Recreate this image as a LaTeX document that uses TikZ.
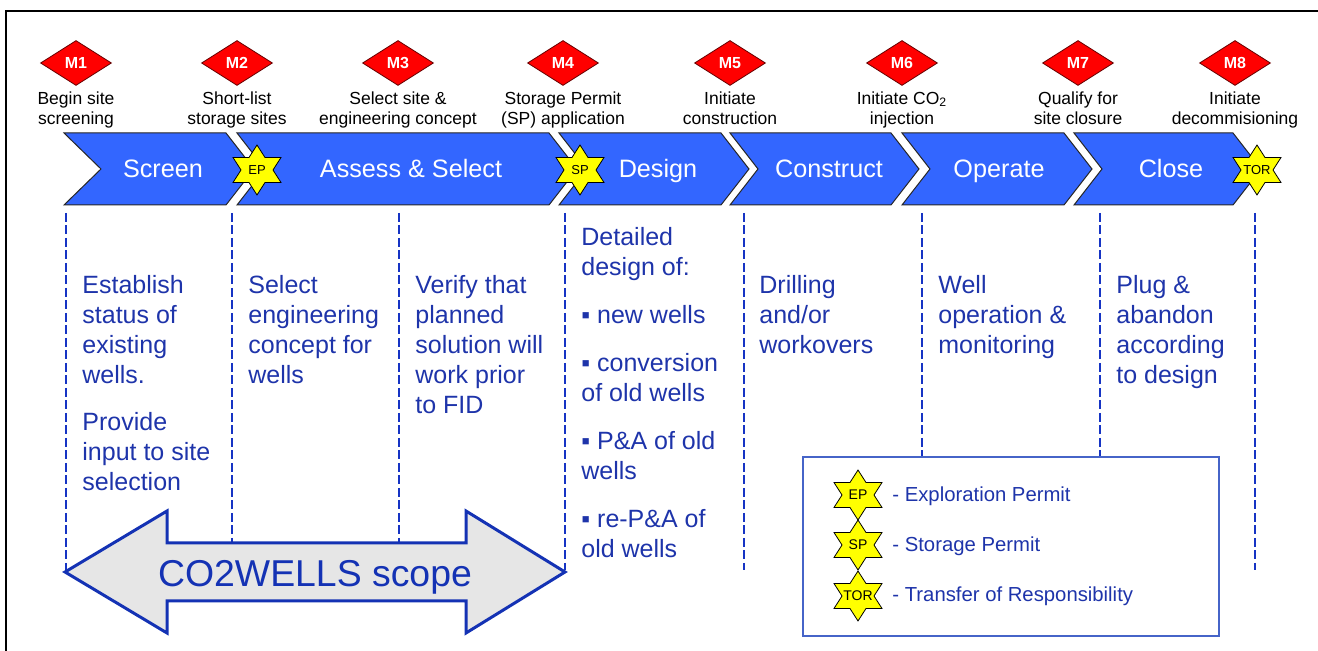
\documentclass[tikz,border=0pt]{standalone}
\usepackage{fontspec}
\setmainfont{Liberation Sans}
\usetikzlibrary{shapes.geometric}
\definecolor{chev}{RGB}{51,102,255}
\definecolor{bodyblue}{RGB}{30,52,170}
\definecolor{dashblue}{RGB}{22,52,196}
\definecolor{arrblue}{RGB}{20,50,180}
\definecolor{legblue}{RGB}{70,100,200}
\definecolor{arrfill}{RGB}{230,230,230}
\definecolor{mred}{RGB}{255,0,0}
\definecolor{staryellow}{RGB}{255,255,0}
\begin{document}
\begin{tikzpicture}[x=0.5pt,y=-0.5pt,
 chevron/.style={fill=chev, draw=black!85, line width=0.5pt, line join=miter},
 chevtext/.style={text=white, font=\fontsize{12.6pt}{15pt}\selectfont, anchor=base, inner sep=0},
 mdiamond/.style={diamond, fill=mred, draw=black!60!red, line width=0.4pt, minimum width=35.5pt, minimum height=22.5pt, inner sep=0, text=white, font=\bfseries\fontsize{8pt}{9pt}\selectfont},
 mlabel/.style={anchor=north, align=center, inner sep=0, font=\fontsize{8.75pt}{10.25pt}\selectfont},
 body/.style={anchor=north west, align=left, inner sep=0, text=bodyblue, font=\fontsize{12.5pt}{15pt}\selectfont},
 vline/.style={draw=dashblue, line width=1.4pt, dash pattern=on 4.5pt off 1.75pt},
 startext/.style={inner sep=0, font=\fontsize{6.5pt}{7pt}\selectfont},
 legstartext/.style={inner sep=0, font=\fontsize{7pt}{8pt}\selectfont},
 legtext/.style={anchor=base west, inner sep=0, text=bodyblue, font=\fontsize{10.15pt}{12pt}\selectfont},
 hexstar/.pic={\draw[fill=staryellow, draw=black, line width=0.4pt, line join=miter]
   (0,-25) -- (8,-12.5) -- (24,-12.5) -- (16,0) -- (24,12.5) -- (8,12.5) -- (0,25)
   -- (-8,12.5) -- (-24,12.5) -- (-16,0) -- (-24,-12.5) -- (-8,-12.5) -- cycle;}
]
\useasboundingbox (0,0) rectangle (1318,651);
% frame
\draw[line width=1pt] (5.5,651) -- (5.5,11) -- (1318,11);

% chevrons
\path[chevron] (64,133) -- (226,133) -- (254,169) -- (226,205) -- (64,205) -- (101,169) -- cycle;
\path[chevron] (237,133) -- (549,133) -- (577,169) -- (549,205) -- (237,205) -- (265,169) -- cycle;
\path[chevron] (559,133) -- (721,133) -- (749,169) -- (721,205) -- (559,205) -- (587,169) -- cycle;
\path[chevron] (730,133) -- (891,133) -- (919,169) -- (891,205) -- (730,205) -- (758,169) -- cycle;
\path[chevron] (902,133) -- (1064,133) -- (1092,169) -- (1064,205) -- (902,205) -- (930,169) -- cycle;
\path[chevron] (1074,133) -- (1233,133) -- (1261,169) -- (1233,205) -- (1074,205) -- (1102,169) -- cycle;

\node[chevtext] (screen) at (163,178) {Screen};
\node[chevtext] (assess) at (411,178) {Assess \& Select};
\node[chevtext] (design) at (658,178) {Design};
\node[chevtext] (construct) at (829,178) {Construct};
\node[chevtext] (operate) at (999,178) {Operate};
\node[chevtext] (close) at (1171,178) {Close};

% permit stars on the chevrons
\pic at (257,170) {hexstar};
\node[startext] (ep) at (257,170) {EP};
\pic at (580,170) {hexstar};
\node[startext] (sp) at (580,170) {SP};
\pic at (1257,170) {hexstar};
\node[startext] (tor) at (1257,170) {TOR};

% milestones
\node[mdiamond] (m1) at (76,63) {M1};
\node[mdiamond] (m2) at (237,63) {M2};
\node[mdiamond] (m3) at (398,63) {M3};
\node[mdiamond] (m4) at (563,63) {M4};
\node[mdiamond] (m5) at (730,63) {M5};
\node[mdiamond] (m6) at (902,63) {M6};
\node[mdiamond] (m7) at (1078,63) {M7};
\node[mdiamond] (m8) at (1235,63) {M8};

\node[mlabel] (l1) at (76,91) {Begin site\\screening};
\node[mlabel] (l2) at (237,91) {Short-list\\storage sites};
\node[mlabel] (l3) at (398,91) {Select site \&\\engineering concept};
\node[mlabel] (l4) at (563,91) {Storage Permit\\(SP) application};
\node[mlabel] (l5) at (730,91) {Initiate\\construction};
\node[mlabel] (l6) at (902,91) {Initiate CO\textsubscript{2}\\injection};
\node[mlabel] (l7) at (1078,91) {Qualify for\\site closure};
\node[mlabel] (l8) at (1235,91) {Initiate\\decommisioning};

% dashed separators
\draw[vline] (66,213) -- (66,570);
\draw[vline] (232,213) -- (232,560);
\draw[vline] (399,213) -- (399,560);
\draw[vline] (565,213) -- (565,570);
\draw[vline] (744,213) -- (744,570);
\draw[vline] (922,213) -- (922,457);
\draw[vline] (1100,213) -- (1100,457);
\draw[vline] (1255,213) -- (1255,570);

% scope arrow
\draw[draw=arrblue, fill=arrfill, line width=1.5pt, line join=miter]
  (65,572) -- (167,511) -- (167,543) -- (466,543) -- (466,511) -- (565,572)
  -- (466,633) -- (466,601) -- (167,601) -- (167,633) -- cycle;
\node[inner sep=0, anchor=base, text=arrblue, font=\fontsize{18.7pt}{22pt}\selectfont] (scope) at (315,587) {CO2WELLS scope};

% column texts
\node[body] (c1) at (82,275) {Establish\\status of\\existing\\wells.\\[8.5pt]Provide\\input to site\\selection};
\node[body] (c2) at (248,275) {Select\\engineering\\concept for\\wells};
\node[body] (c3) at (415,275) {Verify that\\planned\\solution will\\work prior\\to FID};
\node[body] (c4) at (581,227) {Detailed\\design of:\\[9pt]▪ new wells\\[9pt]▪ conversion\\of old wells\\[9pt]▪ P\&A of old\\wells\\[9pt]▪ re-P\&A of\\old wells};
\node[body] (c5) at (759,275) {Drilling\\and/or\\workovers};
\node[body] (c6) at (938,275) {Well\\operation \&\\monitoring};
\node[body] (c7) at (1116,275) {Plug \&\\abandon\\according\\to design};

% legend
\draw[draw=legblue, fill=white, line width=0.75pt] (803,457) rectangle (1219,636);
\pic at (858,495) {hexstar};
\node[legstartext] (lep) at (858,495) {EP};
\pic at (858,545) {hexstar};
\node[legstartext] (lsp) at (858,545) {SP};
\pic at (858,596) {hexstar};
\node[legstartext] (ltor) at (858,596) {TOR};
\node[legtext] (tep) at (892,502) {- Exploration Permit};
\node[legtext] (tsp) at (892,552) {- Storage Permit};
\node[legtext] (ttor) at (892,602) {- Transfer of Responsibility};
\end{tikzpicture}
\end{document}
